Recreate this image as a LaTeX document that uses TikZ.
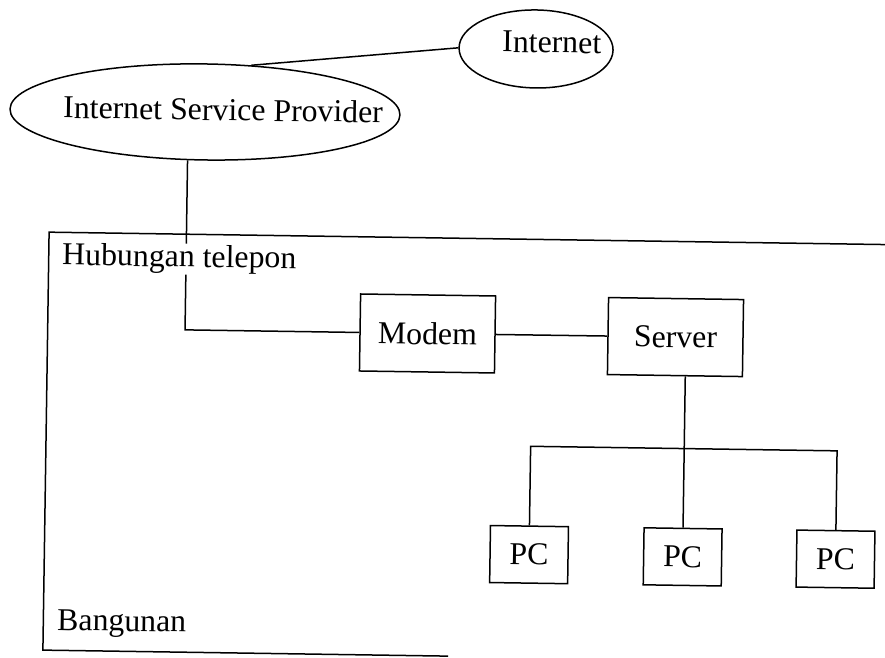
\documentclass[tikz,border=0pt]{standalone}
\usepackage{fontspec}
\setmainfont{Liberation Serif}
\usetikzlibrary{shapes.geometric}
\begin{document}
\begin{tikzpicture}[x=1pt,y=-1pt,
  txt/.style={font=\fontsize{31.8}{36}\selectfont},
  lbl/.style={txt, inner sep=0pt, anchor=base west},
  cloud/.style={draw, ellipse, line width=1.5pt, inner sep=0pt},
  unit/.style={txt, draw, rectangle, line width=1.5pt, inner sep=0pt,
    minimum width=135pt, minimum height=77pt},
  pcbox/.style={unit, minimum width=78pt, minimum height=57pt},
  wire/.style={line width=1.5pt}]
\useasboundingbox (0,0) rectangle (885,657);
\clip (0,0) rectangle (885,657);
\begin{scope}[rotate around={-0.85:(442.5,328.5)}, transform shape]
  % outside world
  \node[cloud, minimum width=390pt, minimum height=96pt] (isp) at (201.8,115.5) {};
  \node[cloud, minimum width=154pt, minimum height=78pt] (inet) at (531.9,47.6) {};
  \node[lbl] (isptext) at (59.9,123.6) {Internet Service Provider};
  \node[lbl] (inettext) at (497.9,51.1) {Internet};
  % equipment inside the building
  \node[unit] (modem) at (427.6,333.7) {Modem};
  \node[unit] (server) at (675.6,333.6) {Server};
  \node[pcbox] (pc1) at (532.4,553.3) {PC};
  \node[pcbox] (pc2) at (686,553.3) {PC};
  \node[pcbox] (pc3) at (838.9,553.3) {PC};
  % building outline, open on the right
  \draw[wire] (900,238) -- (47.7,238) -- (47.7,656) -- (453,656);
  % connections
  \draw[wire] (inet.west) -- (isp.46);
  \draw[wire] (isp.251) |- (modem.west);
  \draw[wire] (modem.east) -- (server.west);
  \coordinate (bus) at (686,445);
  \draw[wire] (pc2.north |- server.south) -- (pc2.north);
  \draw[wire] (pc1.north) |- (bus) -| (pc3.north);
  % labels
  \node[lbl, fill=white, inner sep=1pt] (phone) at (60.1,270.6) {Hubungan telepon};
  \node[lbl] (building) at (61.5,635.7) {Bangunan};
\end{scope}
\end{tikzpicture}
\end{document}
